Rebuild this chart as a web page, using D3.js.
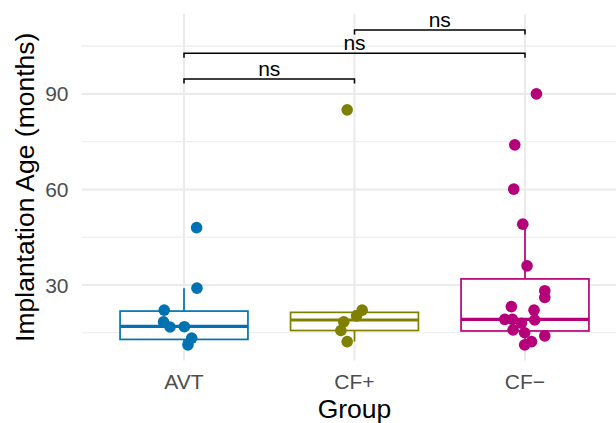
<!DOCTYPE html>
<html>
<head>
<meta charset="utf-8">
<script src="https://cdn.jsdelivr.net/npm/d3@7"></script>
<style>
  html, body { margin: 0; padding: 0; background: #ffffff; }
  svg { display: block; font-family: "Liberation Sans", Arial, Helvetica, sans-serif; }
</style>
</head>
<body>
<svg id="chart" width="616" height="423"></svg>
<script>
// ---------------- data ----------------
const categories = ["AVT", "CF+", "CF\u2212"];
const colors = ["#0072B2", "#808000", "#B5007A"];

// observed values (months) per group
const valuesAVT = [48.0, 29.0, 22.1, 18.4, 16.8, 16.9, 13.3, 11.2];
const valuesCFplus = [85.0, 22.1, 20.3, 18.4, 15.7, 12.2];
const valuesCFminus = [90.0, 74.0, 60.1, 49.1, 36.0, 28.2, 26.1, 23.2, 22.1, 19.2, 19.2, 19.0, 18.0, 15.9, 15.0, 14.0, 12.2, 11.2];

// horizontal jitter, in category-width units
const jitterAVT = [0.074, 0.076, -0.116, -0.12, -0.082, 0.002, 0.045, 0.023];
const jitterCFplus = [-0.043, 0.045, 0.012, -0.063, -0.08, -0.043];
const jitterCFminus = [0.067, -0.060, -0.066, -0.013, 0.012, 0.116, 0.116, -0.080, 0.053, -0.119, -0.074, 0.057, -0.021, -0.070, -0.002, 0.116, 0.038, -0.002];

// box statistics: [lower whisker, Q1, median, Q3, upper whisker]
const boxAVT = [11.2, 12.9, 17.0, 21.8, 29.0];
const boxCFplus = [12.2, 15.7, 19.0, 21.4, 22.1];
const boxCFminus = [11.2, 15.55, 19.2, 31.9, 49.1];

// y axis ticks
const majorTicks = [30, 60, 90];
const minorTicks = [15, 45, 75, 105];

// significance comparisons: [group a, group b, bracket height (months), label]
const compFrom = ["AVT", "AVT", "CF+"];
const compTo = ["CF+", "CF\u2212", "CF\u2212"];
const compY = [94.7, 102.8, 110.1];
const compLabel = ["ns", "ns", "ns"];

const yDomain = [6.28, 115.1];

// ---------------- layout ----------------
const svg = d3.select("#chart");
const W = 616, H = 423;
const panel = { left: 81.7, top: 14, right: 627.3, bottom: 360.5 };

const x = d3.scalePoint().domain(categories).range([panel.left, panel.right]).padding(0.6);
const step = x.step();
const y = d3.scaleLinear().domain(yDomain).range([panel.bottom, panel.top]);

svg.append("rect").attr("width", W).attr("height", H).attr("fill", "#ffffff");

const grid = svg.append("g");
// minor horizontal gridlines
grid.selectAll("line.minor").data(minorTicks).join("line")
  .attr("x1", panel.left).attr("x2", panel.right)
  .attr("y1", d => y(d)).attr("y2", d => y(d))
  .attr("stroke", "#EBEBEB").attr("stroke-width", 1.1);
// major horizontal gridlines
grid.selectAll("line.major").data(majorTicks).join("line")
  .attr("x1", panel.left).attr("x2", panel.right)
  .attr("y1", d => y(d)).attr("y2", d => y(d))
  .attr("stroke", "#EBEBEB").attr("stroke-width", 2.1);
// vertical gridlines
grid.selectAll("line.vert").data(categories).join("line")
  .attr("x1", d => x(d)).attr("x2", d => x(d))
  .attr("y1", panel.top).attr("y2", panel.bottom)
  .attr("stroke", "#EBEBEB").attr("stroke-width", 2.1);

// ---------------- boxes ----------------
const groups = [
  { cat: categories[0], color: colors[0], box: boxAVT, vals: valuesAVT, jit: jitterAVT },
  { cat: categories[1], color: colors[1], box: boxCFplus, vals: valuesCFplus, jit: jitterCFplus },
  { cat: categories[2], color: colors[2], box: boxCFminus, vals: valuesCFminus, jit: jitterCFminus }
];
const boxW = step * 0.75;

const boxes = svg.append("g");
groups.forEach(g => {
  const cx = x(g.cat);
  const [lo, q1, med, q3, hi] = g.box;
  const bg = boxes.append("g");
  bg.append("line").attr("x1", cx).attr("x2", cx).attr("y1", y(q3)).attr("y2", y(hi))
    .attr("stroke", g.color).attr("stroke-width", 1.7);
  bg.append("line").attr("x1", cx).attr("x2", cx).attr("y1", y(q1)).attr("y2", y(lo))
    .attr("stroke", g.color).attr("stroke-width", 1.7);
  bg.append("rect").attr("x", cx - boxW / 2).attr("width", boxW)
    .attr("y", y(q3)).attr("height", y(q1) - y(q3))
    .attr("fill", "#ffffff").attr("stroke", g.color).attr("stroke-width", 1.7);
  bg.append("line").attr("x1", cx - boxW / 2).attr("x2", cx + boxW / 2)
    .attr("y1", y(med)).attr("y2", y(med))
    .attr("stroke", g.color).attr("stroke-width", 3.2);
});

// ---------------- points ----------------
const pts = svg.append("g");
groups.forEach(g => {
  pts.append("g").selectAll("circle").data(g.vals.map((v, i) => ({ v, j: g.jit[i] }))).join("circle")
    .attr("cx", d => x(g.cat) + d.j * step)
    .attr("cy", d => y(d.v))
    .attr("r", 5.8)
    .attr("fill", g.color);
});

// ---------------- brackets ----------------
const br = svg.append("g");
compFrom.forEach((a, i) => {
  const x1 = x(a), x2 = x(compTo[i]), yy = y(compY[i]);
  br.append("path")
    .attr("d", `M${x1},${yy + 4.5}V${yy}H${x2}V${yy + 4.5}`)
    .attr("fill", "none").attr("stroke", "#000000").attr("stroke-width", 1.5);
  br.append("text").attr("x", (x1 + x2) / 2).attr("y", yy - 3)
    .attr("text-anchor", "middle").attr("font-size", 21).attr("fill", "#000000")
    .text(compLabel[i]);
});

// ---------------- axes text ----------------
const axisY = svg.append("g");
axisY.selectAll("text").data(majorTicks).join("text")
  .attr("x", 68.5).attr("y", d => y(d)).attr("dy", "0.36em")
  .attr("text-anchor", "end").attr("font-size", 21).attr("fill", "#4D4D4D")
  .text(d => d);

const axisX = svg.append("g");
axisX.selectAll("text").data(categories).join("text")
  .attr("x", d => x(d)).attr("y", 388.5)
  .attr("text-anchor", "middle").attr("font-size", 21).attr("fill", "#4D4D4D")
  .text(d => d);

svg.append("text").attr("x", x(categories[1])).attr("y", 417.5)
  .attr("text-anchor", "middle").attr("font-size", 26.5).attr("fill", "#000000")
  .text("Group");

svg.append("text")
  .attr("transform", `translate(34,${(panel.top + panel.bottom) / 2}) rotate(-90)`)
  .attr("text-anchor", "middle").attr("font-size", 26.5).attr("fill", "#000000")
  .text("Implantation Age (months)");
</script>
</body>
</html>
